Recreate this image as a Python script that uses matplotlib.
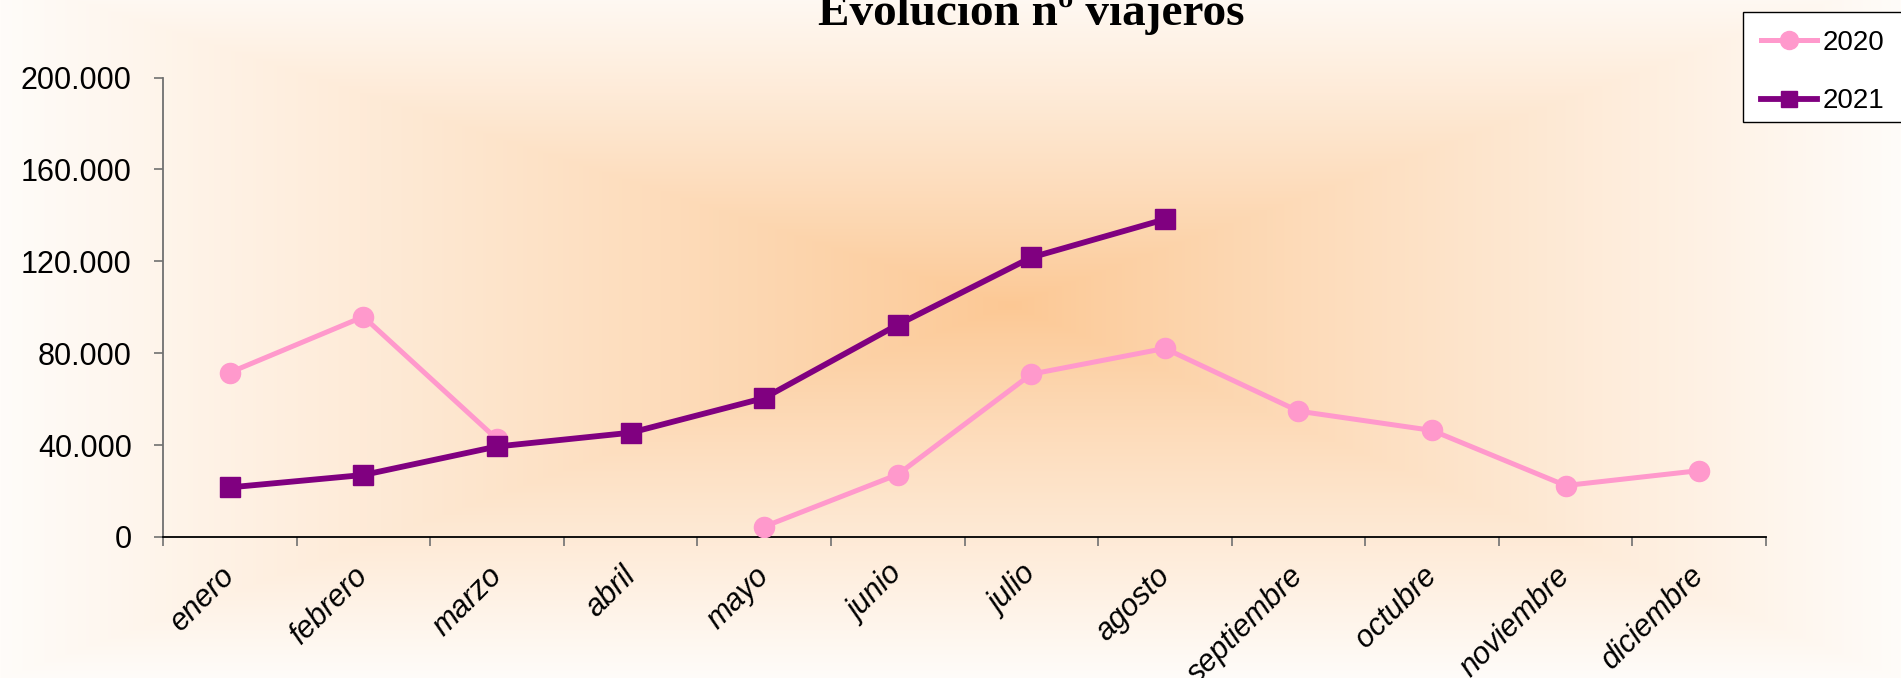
import numpy as np
import matplotlib
matplotlib.use('Agg')
import matplotlib.pyplot as plt
from matplotlib.ticker import FuncFormatter, FixedLocator, NullFormatter
import matplotlib.transforms as mtransforms
from matplotlib.lines import Line2D
from matplotlib.patches import Rectangle

# ---- data ----
meses = ['enero', 'febrero', 'marzo', 'abril', 'mayo', 'junio', 'julio',
         'agosto', 'septiembre', 'octubre', 'noviembre', 'diciembre']
viajeros_2020 = [71600, 95900, 42600, np.nan, 4500, 27200, 70900, 82100,
                 54800, 46400, 22400, 28900]
viajeros_2021 = [21600, 27000, 39400, 45400, 60500, 92400, 121700, 138300]
series_labels = ['2020', '2021']
yticks = [0, 40000, 80000, 120000, 160000, 200000]
titulo = 'Evolucion nº viajeros'

W, H = 1901, 678
fig = plt.figure(figsize=(W / 100, H / 100), dpi=100)

# ---- background rectangular "from center" gradient ----
bg = fig.add_axes([0, 0, 1, 1], zorder=-10)
yy, xx = np.mgrid[0:H, 0:W]
cx, cy = 1010, 305
dx = np.where(xx < cx, (cx - xx) / 1010.0, (xx - cx) / 890.0)
dy = np.where(yy < cy, (cy - yy) / 330.0, (yy - cy) / 373.0)
t = np.clip(np.maximum(dx, dy), 0, 1) ** 0.9
c0 = np.array([252, 200, 148]) / 255.0
c1 = np.array([255, 252, 249]) / 255.0
img = c0[None, None, :] * (1 - t[..., None]) + c1[None, None, :] * t[..., None]
bg.imshow(img, extent=[0, W, H, 0], aspect='auto', interpolation='bilinear')
bg.set_xlim(0, W)
bg.set_ylim(H, 0)
bg.axis('off')

# ---- main axes ----
x0, x1 = 163, 1766
y0, y1 = 537, 77.6
ax = fig.add_axes([x0 / W, (H - y0) / H, (x1 - x0) / W, (y0 - y1) / H])
ax.patch.set_alpha(0)

pos = np.arange(len(meses)) + 0.5
ax.plot(pos, viajeros_2020, color='#FF99CC', lw=3.6, marker='o', ms=14.5,
        label=series_labels[0], zorder=3)
ax.plot(pos[:len(viajeros_2021)], viajeros_2021, color='#800080', lw=4.2,
        marker='s', ms=14, label=series_labels[1], zorder=4)

ax.set_xlim(0, len(meses))
ax.set_ylim(0, 200000)

for s in ['top', 'right']:
    ax.spines[s].set_visible(False)
ax.spines['left'].set_color('#707070')
ax.spines['left'].set_linewidth(1.3)
ax.spines['bottom'].set_color('black')
ax.spines['bottom'].set_linewidth(1.3)

font = 'Liberation Sans'
ax.set_yticks(yticks)
ax.yaxis.set_major_formatter(FuncFormatter(lambda v, p: f"{int(v):,}".replace(',', '.')))
ax.tick_params(axis='y', direction='out', length=6.5, width=1.2, color='#707070',
               pad=16, labelsize=22)
for lab in ax.get_yticklabels():
    lab.set_family(font)

ax.xaxis.set_major_locator(FixedLocator(np.arange(len(meses) + 1)))
ax.xaxis.set_major_formatter(NullFormatter())
ax.xaxis.set_minor_locator(FixedLocator(pos))
ax.set_xticklabels(meses, minor=True)
ax.tick_params(axis='x', which='major', direction='out', length=6.5, width=1.2,
               color='#707070')
ax.tick_params(axis='x', which='minor', length=0, pad=17, labelsize=22)
off = mtransforms.ScaledTranslation(11 / 100, 0, fig.dpi_scale_trans)
for lab in ax.get_xticklabels(minor=True):
    lab.set_rotation(45)
    lab.set_ha('right')
    lab.set_va('top')
    lab.set_family(font)
    lab.set_style('italic')
    lab.set_transform(lab.get_transform() + off)

# ---- title ----
fig.text(1031 / W, 1 - 25 / H, titulo, ha='center', va='baseline',
         fontsize=34, fontweight='bold', family='Liberation Serif')

# ---- legend ----
box = Rectangle((1743 / W, 1 - 122 / H), 200 / W, 110 / H,
                transform=fig.transFigure, facecolor='white',
                edgecolor='black', lw=1.0, zorder=5, clip_on=False)
fig.patches.append(box)
handles = [
    Line2D([], [], color='#FF99CC', lw=3.6, marker='o', ms=13),
    Line2D([], [], color='#800080', lw=4.2, marker='s', ms=12),
]
leg = fig.legend(handles, series_labels, loc='upper left',
                 bbox_to_anchor=(1743 / W, 1 - 12 / H), frameon=False,
                 prop={'family': font, 'size': 20}, handlelength=2.05,
                 handletextpad=0.18, labelspacing=1.18, borderpad=0.63,
                 borderaxespad=0)
leg.set_zorder(6)

fig.savefig('out.png', dpi=100)
